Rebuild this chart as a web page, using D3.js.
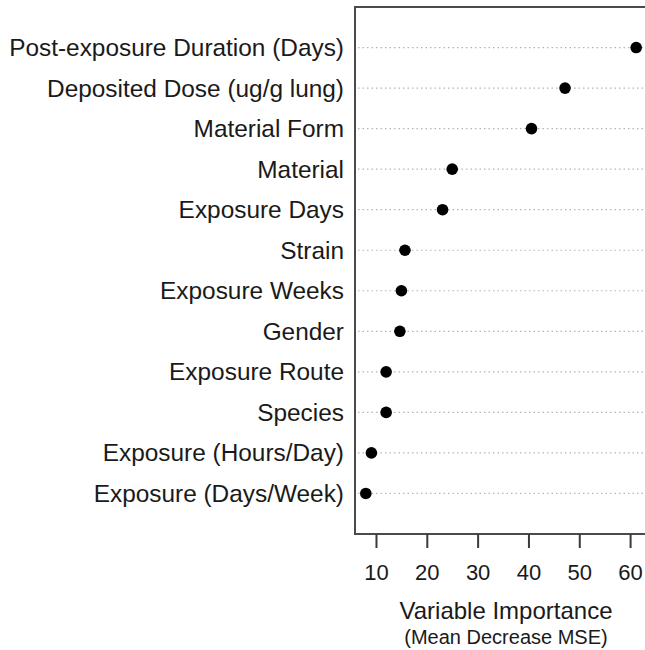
<!DOCTYPE html>
<html>
<head>
<meta charset="utf-8">
<script src="https://cdn.jsdelivr.net/npm/d3@7"></script>
<style>
  html, body { margin: 0; padding: 0; background: #fff; }
  svg { display: block; }
  text { font-family: "Liberation Sans", Arial, sans-serif; fill: #1a1a1a; }
</style>
</head>
<body>
<svg id="chart" width="645" height="650"></svg>
<script>
// Data (top to bottom as displayed)
const categories = [
  "Post-exposure Duration (Days)",
  "Deposited Dose (ug/g lung)",
  "Material Form",
  "Material",
  "Exposure Days",
  "Strain",
  "Exposure Weeks",
  "Gender",
  "Exposure Route",
  "Species",
  "Exposure (Hours/Day)",
  "Exposure (Days/Week)"
];
const importance = [61.2, 47.2, 40.6, 25.0, 23.1, 15.7, 15.0, 14.7, 12.0, 12.0, 9.1, 8.0];
const xTicks = [10, 20, 30, 40, 50, 60];
const xTitle = "Variable Importance";
const xSubtitle = "(Mean Decrease MSE)";

(function () {
const svg = d3.select("#chart");
const pL = 355, pR = 647, pT = 7, pB = 534;

const lo = d3.min(importance), hi = d3.max(importance);
const pad = (hi - lo) * 0.04;
const x = d3.scaleLinear().domain([lo - pad, hi + pad]).range([pL, pR]);
const y = d3.scaleLinear().domain([0, categories.length + 1]).range([pT, pB]);

// dotted guide lines
svg.append("g").selectAll("line").data(categories).join("line")
  .attr("x1", pL + 3).attr("x2", 645)
  .attr("y1", (d, i) => y(i + 1)).attr("y2", (d, i) => y(i + 1))
  .attr("stroke", "#b4b4b4").attr("stroke-width", 1.2)
  .attr("stroke-dasharray", "1.5,3");

// frame
svg.append("rect")
  .attr("x", pL).attr("y", pT)
  .attr("width", pR - pL).attr("height", pB - pT)
  .attr("fill", "none").attr("stroke", "#4a4a4a").attr("stroke-width", 2);

// category labels
svg.append("g").selectAll("text").data(categories).join("text")
  .attr("x", 344).attr("y", (d, i) => y(i + 1) + 8.5)
  .attr("text-anchor", "end")
  .attr("font-size", 24.4)
  .text(d => d);

// points
svg.append("g").selectAll("circle").data(importance).join("circle")
  .attr("cx", d => x(d)).attr("cy", (d, i) => y(i + 1))
  .attr("r", 5.8).attr("fill", "#000");

// x axis
const axis = d3.axisBottom(x).tickValues(xTicks).tickSize(14).tickPadding(16).tickSizeOuter(0);
const gx = svg.append("g").attr("transform", `translate(0,${pB})`).call(axis);
gx.select(".domain").remove();
gx.selectAll(".tick line").attr("stroke", "#3a3a3a").attr("stroke-width", 2);
gx.selectAll(".tick text")
  .attr("font-size", 22)
  .attr("font-family", "Liberation Sans, Arial, sans-serif")
  .attr("fill", "#1a1a1a");

// titles
svg.append("text").attr("x", 506).attr("y", 619).attr("text-anchor", "middle")
  .attr("font-size", 24).text(xTitle);
svg.append("text").attr("x", 506).attr("y", 644).attr("text-anchor", "middle")
  .attr("font-size", 20).text(xSubtitle);
})();
</script>
</body>
</html>
